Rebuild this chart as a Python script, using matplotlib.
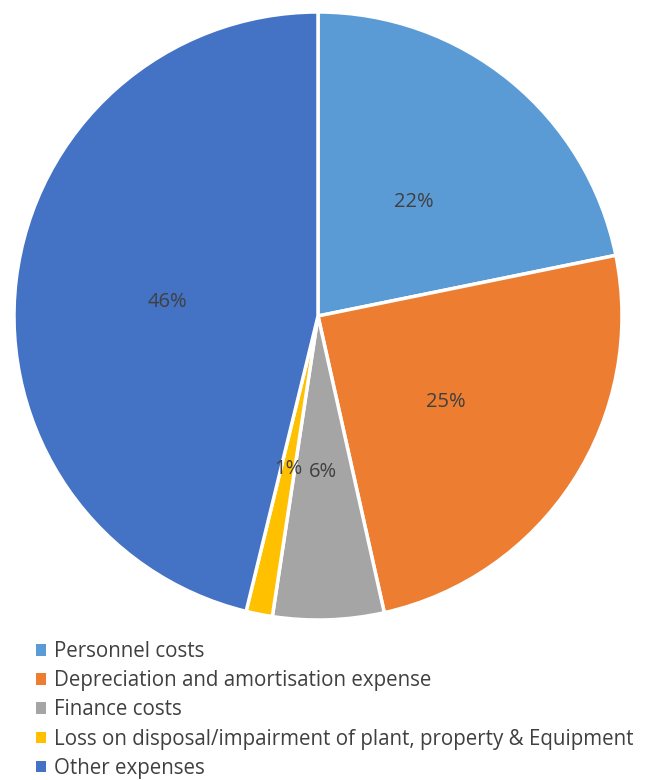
import matplotlib.pyplot as plt
from matplotlib.patches import Patch

categories = ['Personnel costs', 'Depreciation and amortisation expense', 'Finance costs',
              'Loss on disposal/impairment of plant, property & Equipment', 'Other expenses']
shares = [21.8, 24.7, 5.9, 1.4, 46.2]
colors = ['#5B9BD5', '#ED7D31', '#A5A5A5', '#FFC000', '#4472C4']

W, H = 647, 780
fig = plt.figure(figsize=(W / 100, H / 100), dpi=100)

cx, cy, r = 318, 316, 304
ax = fig.add_axes([(cx - r) / W, (H - cy - r) / H, 2 * r / W, 2 * r / H])
wedges, texts, autotexts = ax.pie(
    shares, colors=colors, startangle=90, counterclock=False,
    autopct='%.0f%%', pctdistance=0.5,
    wedgeprops=dict(edgecolor='white', linewidth=2.5),
    textprops=dict(color='#404040', fontsize=14.5, family='Open Sans'))
for t in autotexts:
    x, y = t.get_position()
    t.set_position((x, y - 0.012))
ax.set_xlim(-1, 1)
ax.set_ylim(-1, 1)
ax.set_aspect('equal')
ax.axis('off')

handles = [Patch(facecolor=c, edgecolor='none') for c in colors]
fig.legend(handles, categories, loc='upper left',
           bbox_to_anchor=(36 / W, 1 - 641 / H), frameon=False,
           prop=dict(family='Open Sans', size=14.8), labelcolor='#404040',
           handlelength=0.5, handleheight=0.5, handletextpad=0.4,
           labelspacing=0.4, borderpad=0, borderaxespad=0)

fig.savefig('out.png', dpi=100)
